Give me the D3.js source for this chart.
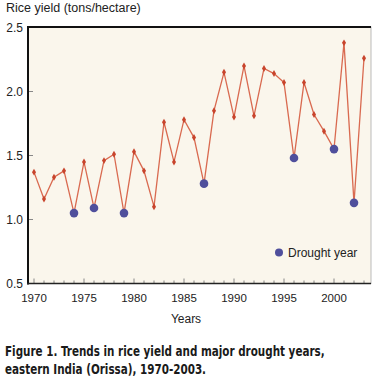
<!DOCTYPE html>
<html><head><meta charset="utf-8">
<script src="https://cdn.jsdelivr.net/npm/d3@7"></script>
<style>body{margin:0;background:#fff;}svg{display:block;}</style>
</head><body>
<script>
const years = d3.range(1970, 2004);
const yieldValues = [1.37,1.16,1.33,1.38,1.05,1.45,1.09,1.46,1.51,1.05,1.53,1.38,1.10,1.76,1.45,1.78,1.64,1.28,1.85,2.15,1.80,2.20,1.81,2.18,2.14,2.07,1.48,2.07,1.82,1.69,1.55,2.38,1.13,2.26];
const droughtYears = [1974,1976,1979,1987,1996,2000,2002];
const yTicks = [0.5,1.0,1.5,2.0,2.5];
const xTicks = [1970,1975,1980,1985,1990,1995,2000];
const captionLines = ["Figure 1. Trends in rice yield and major drought years,", "eastern India (Orissa), 1970-2003."];

(function(){
const W = 375, H = 385;
const svg = d3.select("body").append("svg").attr("width", W).attr("height", H);
const pl = 28, pr = 371, pt = 27, pb = 283.5;
const x = d3.scaleLinear().domain([1969.4, 2003.7]).range([pl, pr]);
const y = d3.scaleLinear().domain([0.5, 2.5]).range([pb, pt + 0.5]);
const font = "Arial, 'Liberation Sans', sans-serif";

svg.append("rect").attr("x", pl).attr("y", pt).attr("width", pr - pl).attr("height", pb - pt)
  .attr("fill", "#faf6ec").attr("stroke", "#bbb").attr("stroke-width", 1);

svg.append("g").selectAll("line").data(yTicks.slice(1, -1)).join("line")
  .attr("x1", pl).attr("x2", pl + 5).attr("y1", d => y(d)).attr("y2", d => y(d))
  .attr("stroke", "#888").attr("stroke-width", 1);
svg.append("g").selectAll("line").data(years).join("line")
  .attr("x1", d => x(d)).attr("x2", d => x(d))
  .attr("y1", pb).attr("y2", d => pb - (d % 5 === 0 ? 5 : 3))
  .attr("stroke", "#888").attr("stroke-width", 1);

svg.append("line").attr("x1", pl).attr("x2", pl).attr("y1", pt - 1).attr("y2", pb + 1)
  .attr("stroke", "#111").attr("stroke-width", 2);
svg.append("line").attr("x1", pl - 1).attr("x2", pr).attr("y1", pt).attr("y2", pt)
  .attr("stroke", "#111").attr("stroke-width", 2);
svg.append("line").attr("x1", pl - 1).attr("x2", pr).attr("y1", pb).attr("y2", pb)
  .attr("stroke", "#222").attr("stroke-width", 1.5);

svg.append("g").selectAll("text").data(yTicks).join("text")
  .attr("x", 23).attr("y", d => y(d) + 4).attr("text-anchor", "end")
  .attr("font-family", font).attr("font-size", 12).attr("fill", "#222")
  .text(d => d.toFixed(1));
svg.append("g").selectAll("text").data(xTicks).join("text")
  .attr("x", d => x(d)).attr("y", 302).attr("text-anchor", "middle")
  .attr("font-family", font).attr("font-size", 11.5).attr("fill", "#222")
  .text(d => d);

svg.append("text").attr("x", 6).attr("y", 12).attr("font-family", font).attr("font-size", 12.5)
  .attr("fill", "#222").text("Rice yield  (tons/hectare)");
svg.append("text").attr("x", 186).attr("y", 323).attr("text-anchor", "middle")
  .attr("font-family", font).attr("font-size", 12).attr("fill", "#222").text("Years");

const data = years.map((yr, i) => ({yr, v: yieldValues[i]}));
svg.append("path").datum(data)
  .attr("d", d3.line().x(d => x(d.yr)).y(d => y(d.v)))
  .attr("fill", "none").attr("stroke", "#d96a50").attr("stroke-width", 1.3);
svg.append("g").selectAll("path").data(data.filter(d => !droughtYears.includes(d.yr))).join("path")
  .attr("transform", d => `translate(${x(d.yr)},${y(d.v)})`)
  .attr("d", d3.symbol(d3.symbolDiamond, 14))
  .attr("fill", "#c8442c");
svg.append("g").selectAll("circle").data(data.filter(d => droughtYears.includes(d.yr))).join("circle")
  .attr("cx", d => x(d.yr)).attr("cy", d => y(d.v)).attr("r", 4.3)
  .attr("fill", "#4f4f9c");

svg.append("circle").attr("cx", 279).attr("cy", 252.5).attr("r", 4).attr("fill", "#4f4f9c");
svg.append("text").attr("x", 288).attr("y", 257).attr("font-family", font).attr("font-size", 12)
  .attr("fill", "#222").text("Drought year");

// caption: condensed bold, horizontally scaled so line 1 spans ~320px
const capG = svg.append("g");
const capTexts = capG.selectAll("text").data(captionLines).join("text")
  .attr("x", 0).attr("y", (d, i) => i * 18)
  .attr("font-family", "'DejaVu Sans Condensed', 'Liberation Sans', sans-serif")
  .attr("font-weight", "bold").attr("font-size", 13.5).attr("fill", "#1a1a1a")
  .text(d => d);
const w0 = capTexts.nodes()[0].getComputedTextLength() || 320;
const s = Math.min(1, 320 / w0);
capG.attr("transform", `translate(5,356) scale(${s},1)`);
})();
</script>
</body></html>
